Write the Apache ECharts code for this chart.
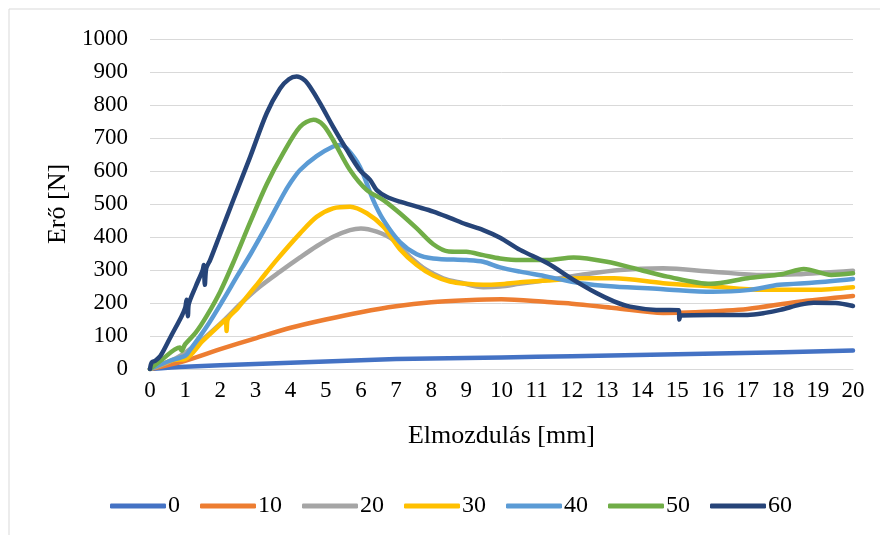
<!DOCTYPE html>
<html>
<head>
<meta charset="utf-8">
<script src="https://cdn.jsdelivr.net/npm/echarts@6/dist/echarts.min.js"></script>
<style>
  html, body { margin: 0; padding: 0; background: #fff; }
  #chart { width: 880px; height: 535px; }
</style>
</head>
<body>
<div id="chart"></div>
<script>
// [elmozdulás mm, erő N] pontok
var names = ["0", "10", "20", "30", "40", "50", "60"];
var colors = ["#4472C4", "#ED7D31", "#A5A5A5", "#FFC000", "#5B9BD5", "#70AD47", "#264478"];

var s0 = [[0,0],[1,7],[3,15],[5,23],[7,30],[10,35],[12,39],[15,45],[18,51],[20,56]];
var s10 = [[0,0],[1,25],[2,60],[3,93],[4,125],[5,150],[6,172],[7,190],[8,202],[9,208],[10,211],[11.3,203],[12,198],
  [13.2,185],[14.6,170],[15.5,172],[17,182],[18.4,203],[20,221]];
var s20 = [[0,0],[0.5,20],[0.94,45],[1.5,90],[2.08,145],[2.6,200],[3.13,250],[3.7,295],[4.27,338],[4.74,372],[5.21,401],
  [5.69,421],[6.0,426],[6.45,416],[6.92,391],[7.4,340],[7.87,300],[8.34,275],[8.82,262],[9.48,248],[9.96,250],
  [10.5,258],[11.3,270],[12.24,285],[13.37,300],[14.6,305],[16,295],[17.43,285],[18.39,287],[20,298]];
var s30 = [[0,0],[0.66,27],[1,30],[1.5,85],[2.08,143],[2.15,150],[2.18,115],[2.21,150],[2.5,185],[3.13,268],[3.6,330],
  [4.27,411],[4.74,461],[5.21,487],[5.69,492],[6.17,472],[6.64,431],[7.11,363],[7.59,315],[8.06,283],[8.53,265],
  [9,258],[9.48,255],[9.96,257],[10.53,263],[11.3,268],[12.24,275],[13.2,275],[14.6,260],[16,250],[17.43,240],
  [18.9,240],[20,248]];
var s40 = [[0,0],[0.57,25],[1,40],[1.14,58],[1.61,128],[2.08,209],[2.5,285],[2.87,350],[3.32,435],[3.79,528],[4.0,565],
  [4.27,603],[4.74,645],[5.21,674],[5.41,679],[5.6,668],[5.97,613],[6.35,512],[6.64,452],[7.11,385],[7.59,348],
  [8.06,335],[9,330],[9.48,325],[9.96,308],[10.53,295],[11.3,280],[12.24,260],[13.2,250],[14.6,242],[16,234],
  [17,239],[17.9,255],[18.9,262],[20,273]];
var s50 = [[0,0],[0.3,25],[0.85,65],[0.9,55],[1,75],[1.3,110],[1.61,160],[2,235],[2.4,330],[2.85,445],[3.32,560],
  [3.79,654],[4.27,734],[4.65,755],[4.93,739],[5.21,694],[5.69,603],[6.17,542],[6.64,512],[7.11,472],[7.59,426],
  [8.06,378],[8.5,356],[9,355],[9.48,345],[9.96,335],[10.53,330],[11.3,330],[12.05,338],[13,325],[13.96,300],
  [14.72,280],[15.95,258],[17,275],[18,288],[18.6,303],[19.38,285],[20,290]];
var s60 = [[0,0],[0.05,20],[0.15,25],[0.3,40],[0.6,100],[0.9,160],[1,185],[1.04,210],[1.08,160],[1.1,195],[1.3,250],
  [1.5,300],[1.53,315],[1.56,255],[1.6,305],[1.71,330],[2,410],[2.37,512],[2.85,643],[3.32,775],[3.7,850],[3.95,878],
  [4.17,886],[4.4,875],[4.55,855],[4.84,805],[5.21,734],[5.6,664],[5.97,603],[6.26,573],[6.45,542],[6.73,522],
  [7.11,507],[7.59,492],[8.06,477],[8.53,458],[9,438],[9.48,421],[9.96,398],[10.53,361],[11.3,321],[12.05,270],
  [12.7,230],[13.2,205],[13.66,189],[14.4,179],[15.05,178],[15.06,150],[15.1,162],[16,164],[17,164],[17.5,170],
  [17.93,179],[18.5,195],[18.88,201],[19.5,200],[20,191]];
var allData = [s0, s10, s20, s30, s40, s50, s60];

var font = "'Liberation Serif', 'Times New Roman', serif";
var myChart = echarts.init(document.getElementById("chart"));

var series = names.map(function (n, i) {
  return {
    name: n,
    type: "line",
    data: allData[i],
    showSymbol: false,
    symbol: "none",
    smooth: 0.3,
    color: colors[i],
    lineStyle: { width: 4.5, cap: "round", join: "round" },
    z: 2 + i,
  };
});

var option = {
  animation: false,
  backgroundColor: "#fff",
  graphic: [{
    type: "rect",
    shape: { x: 9, y: 9, width: 900, height: 600 },
    style: { fill: "none", stroke: "#d9d9d9", lineWidth: 1 },
  }],
  grid: { left: 150, right: 27, top: 39, bottom: 166 },
  legend: {
    data: names,
    left: 105,
    top: 489,
    icon: "roundRect",
    itemWidth: 56,
    itemHeight: 5,
    itemGap: 20,
    textStyle: { fontFamily: font, fontSize: 24, color: "#000", padding: [0, 0, 0, -3] },
  },
  xAxis: {
    type: "value",
    min: 0,
    max: 20,
    interval: 1,
    name: "Elmozdulás [mm]",
    nameLocation: "middle",
    nameGap: 54,
    nameTextStyle: { fontFamily: font, fontSize: 26, color: "#000" },
    axisLine: { show: true, lineStyle: { color: "#d9d9d9", width: 1 } },
    axisTick: { show: false },
    axisLabel: { fontFamily: font, fontSize: 23, color: "#000", margin: 10 },
    splitLine: { show: false },
  },
  yAxis: {
    type: "value",
    min: 0,
    max: 1000,
    interval: 100,
    name: "Erő [N]",
    nameLocation: "middle",
    nameGap: 72,
    nameTextStyle: { fontFamily: font, fontSize: 26, color: "#000" },
    axisLine: { show: false },
    axisTick: { show: false },
    axisLabel: {
      fontFamily: font, fontSize: 23, color: "#000", margin: 22,
      formatter: function (v) { return String(v); },
    },
    splitLine: { show: true, lineStyle: { color: "#d9d9d9", width: 1 } },
  },
  series: series,
};

myChart.setOption(option);
window.onresize = function () {
  myChart.resize();
};
</script>
</body>
</html>
